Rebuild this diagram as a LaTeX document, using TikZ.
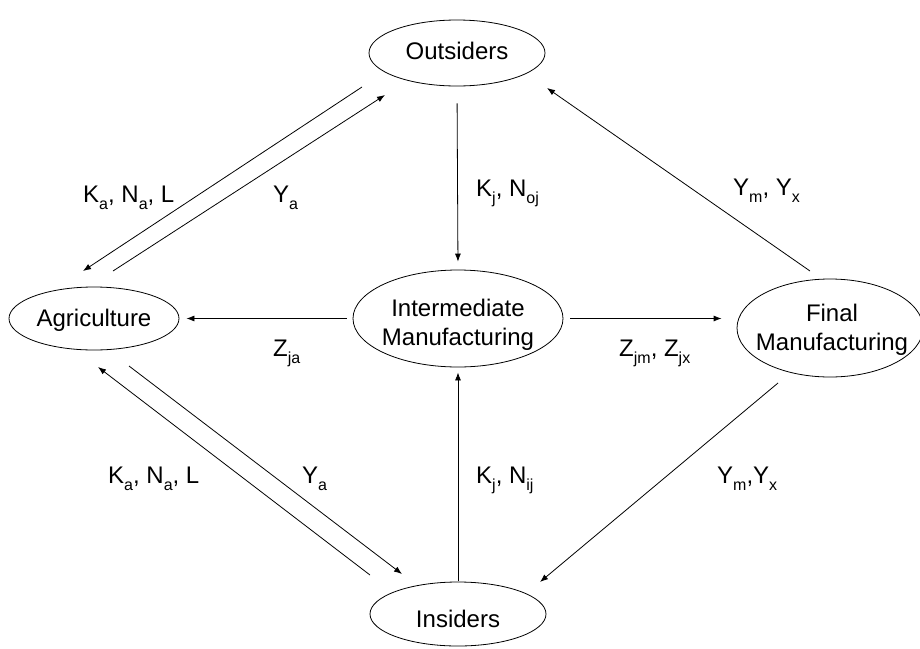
\documentclass[tikz,border=0pt]{standalone}
\usepackage{fontspec}
\setmainfont{Liberation Sans}
\usetikzlibrary{shapes.geometric,arrows.meta}
\newcommand{\lsub}[1]{\raisebox{-0.32em}{\fontsize{16}{16}\selectfont #1}}
\tikzset{
  sector/.style={ellipse, draw, line width=0.8pt, inner sep=0pt},
  sectortext/.style={inner sep=0pt, align=center, font=\fontsize{24}{29}\selectfont},
  flow/.style={line width=0.8pt, -{Latex[length=8pt,width=6pt]}},
  lbl/.style={anchor=base west, inner sep=0pt, font=\fontsize{24}{29}\selectfont}
}
\begin{document}
\begin{tikzpicture}[x=1pt,y=-1pt]
\useasboundingbox (0,0) rectangle (920,648);
\fill[white] (0,0) rectangle (920,648);

% sector ellipses
\node[sector, minimum width=176pt, minimum height=66pt] (out) at (457,53) {};
\node[sector, minimum width=170pt, minimum height=63pt] (agr) at (94,318.5) {};
\node[sector, minimum width=210pt, minimum height=97pt] (mid) at (458,318.5) {};
\node[sector, minimum width=186pt, minimum height=98pt] (fin) at (830,328) {};
\node[sector, minimum width=176pt, minimum height=64pt] (ins) at (458,614) {};

% sector names
\node[sectortext] (outT) at (457,51) {Outsiders};
\node[sectortext] (agrT) at (94,320.5) {Agriculture};
\node[sectortext] (midT) at (458,325) {Intermediate\\Manufacturing};
\node[sectortext] (finT) at (832,330) {Final\\Manufacturing};
\node[sectortext] (insT) at (458,619) {Insiders};

% straight connectors
\draw[flow, shorten <=17pt, shorten >=8pt] (out.south) -- (mid.north);
\draw[flow, shorten <=1pt, shorten >=5pt] (ins.north) -- (mid.south);
\draw[flow, shorten <=6pt, shorten >=7pt] (mid.west) -- (agr.east);
\draw[flow, shorten <=7pt, shorten >=15pt] (mid.east) -- (mid.east -| fin.west);

% diagonal connectors (free ends as named coordinates near the nodes)
\coordinate (oaS) at (362,87);  \coordinate (oaE) at (83,271);
\coordinate (aoS) at (113,271); \coordinate (aoE) at (385,95);
\coordinate (iaS) at (370,575); \coordinate (iaE) at (98,367);
\coordinate (aiS) at (129,366); \coordinate (aiE) at (402,574);
\coordinate (foS) at (810,271); \coordinate (foE) at (547,88);
\coordinate (fiS) at (778,383); \coordinate (fiE) at (540,582);
\draw[flow] (oaS) -- (oaE);
\draw[flow] (aoS) -- (aoE);
\draw[flow] (iaS) -- (iaE);
\draw[flow] (aiS) -- (aiE);
\draw[flow] (foS) -- (foE);
\draw[flow] (fiS) -- (fiE);

% labels
\node[lbl] (l1) at (83,202) {K\lsub{a}, N\lsub{a}, L};
\node[lbl] (l2) at (273,202) {Y\lsub{a}};
\node[lbl] (l3) at (476,196) {K\lsub{j}, N\lsub{oj}};
\node[lbl] (l4) at (733,195) {Y\lsub{m}, Y\lsub{x}};
\node[lbl] (l5) at (273,356) {Z\lsub{ja}};
\node[lbl] (l6) at (619,356) {Z\lsub{jm}, Z\lsub{jx}};
\node[lbl] (l7) at (108,483) {K\lsub{a}, N\lsub{a}, L};
\node[lbl] (l8) at (302,483) {Y\lsub{a}};
\node[lbl] (l9) at (476,483) {K\lsub{j}, N\lsub{ij}};
\node[lbl] (l10) at (717,483) {Y\lsub{m},Y\lsub{x}};
\end{tikzpicture}
\end{document}
